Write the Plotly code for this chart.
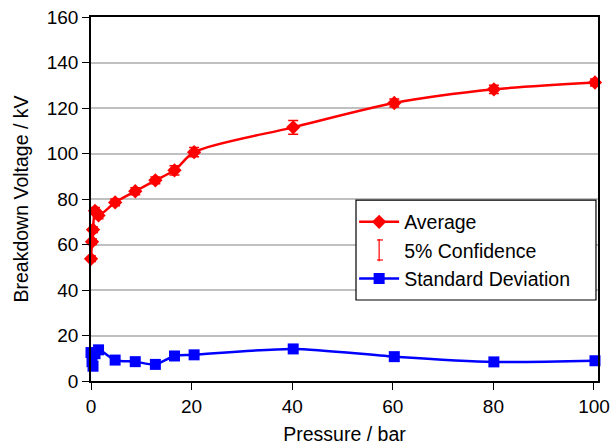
import plotly.graph_objects as go

pressure = [0, 0.2, 0.4, 0.8, 1.5, 4.8, 8.8, 12.8, 16.6, 20.5, 40.2, 60.3, 80.1, 100.2]
average_kv = [53.7, 61.2, 66.5, 74.8, 72.8, 78.5, 83.4, 88.2, 92.6, 100.6, 111.5, 122.2, 128.2, 131.2]
confidence_kv = [1.2, 1.2, 1.2, 1.5, 1.5, 1.5, 1.5, 1.5, 2.0, 2.0, 3.0, 1.8, 1.8, 1.5]
std_dev_kv = [12.5, 8.5, 6.5, 12.0, 13.7, 9.2, 8.5, 7.3, 11.0, 11.5, 14.1, 10.7, 8.4, 8.9]

x_ticks = [0, 20, 40, 60, 80, 100]
y_ticks = [0, 20, 40, 60, 80, 100, 120, 140, 160]

FONT = "Liberation Sans, Arial, sans-serif"
RED = "#FF0000"
BLUE = "#0000FF"

fig = go.Figure()

fig.add_trace(go.Scatter(
    x=pressure, y=average_kv, name="Average",
    mode="lines+markers",
    line=dict(color=RED, width=2.5, shape="spline", smoothing=0.8),
    marker=dict(symbol="diamond", size=11, color=RED),
    error_y=dict(type="data", array=confidence_kv, color=RED, thickness=1.5, width=5),
    cliponaxis=False,
))

fig.add_trace(go.Scatter(
    x=[None], y=[None], name="5% Confidence",
    mode="markers",
    marker=dict(symbol="line-ns-open", size=20, color=RED, line=dict(color=RED, width=1.2)),
))

fig.add_trace(go.Scatter(
    x=pressure, y=std_dev_kv, name="Standard Deviation",
    mode="lines+markers",
    line=dict(color=BLUE, width=2.5, shape="spline", smoothing=0.8),
    marker=dict(symbol="square", size=11, color=BLUE),
    cliponaxis=False,
))

# legend frame (paper coordinates of the plot area)
fig.add_shape(type="rect", xref="paper", yref="paper",
              x0=0.5227, x1=0.996, y0=0.2225, y1=0.497,
              line=dict(color="black", width=1.2), fillcolor="white", layer="above")
# caps of the "5% Confidence" legend glyph
for cap_y in (0.3874, 0.3324):
    fig.add_shape(type="line", xref="paper", yref="paper",
                  x0=0.5641, x1=0.5759, y0=cap_y, y1=cap_y,
                  line=dict(color=RED, width=1.2), layer="above")

fig.update_layout(
    width=613, height=445,
    margin=dict(l=91, r=15, t=17, b=64),
    paper_bgcolor="white", plot_bgcolor="white",
    font=dict(family=FONT, size=19, color="black"),
    showlegend=True,
    legend=dict(
        x=0.519, y=0.490, xanchor="left", yanchor="top",
        borderwidth=0, bgcolor="rgba(0,0,0,0)",
        font=dict(family=FONT, size=19.5, color="black"),
        tracegroupgap=0, itemwidth=40,
    ),
    xaxis=dict(
        range=[0, 100.8], tickvals=x_ticks, automargin=False,
        showgrid=False, zeroline=False,
        showline=True, linecolor="black", linewidth=1.5, mirror=True,
        ticks="outside", ticklen=7, tickcolor="black",
        title=dict(text="Pressure / bar", standoff=16, font=dict(size=19.5)),
        tickfont=dict(size=19),
    ),
    yaxis=dict(
        range=[0, 160], tickvals=y_ticks, automargin=False,
        showgrid=True, gridcolor="#C0C0C0", gridwidth=1.5, zeroline=False,
        showline=True, linecolor="black", linewidth=1.5, mirror=True,
        ticks="outside", ticklen=7, tickcolor="black",
        title=dict(text="Breakdown Voltage / kV", standoff=13, font=dict(size=19.5)),
        tickfont=dict(size=19),
    ),
)

fig.write_html("out.html")
